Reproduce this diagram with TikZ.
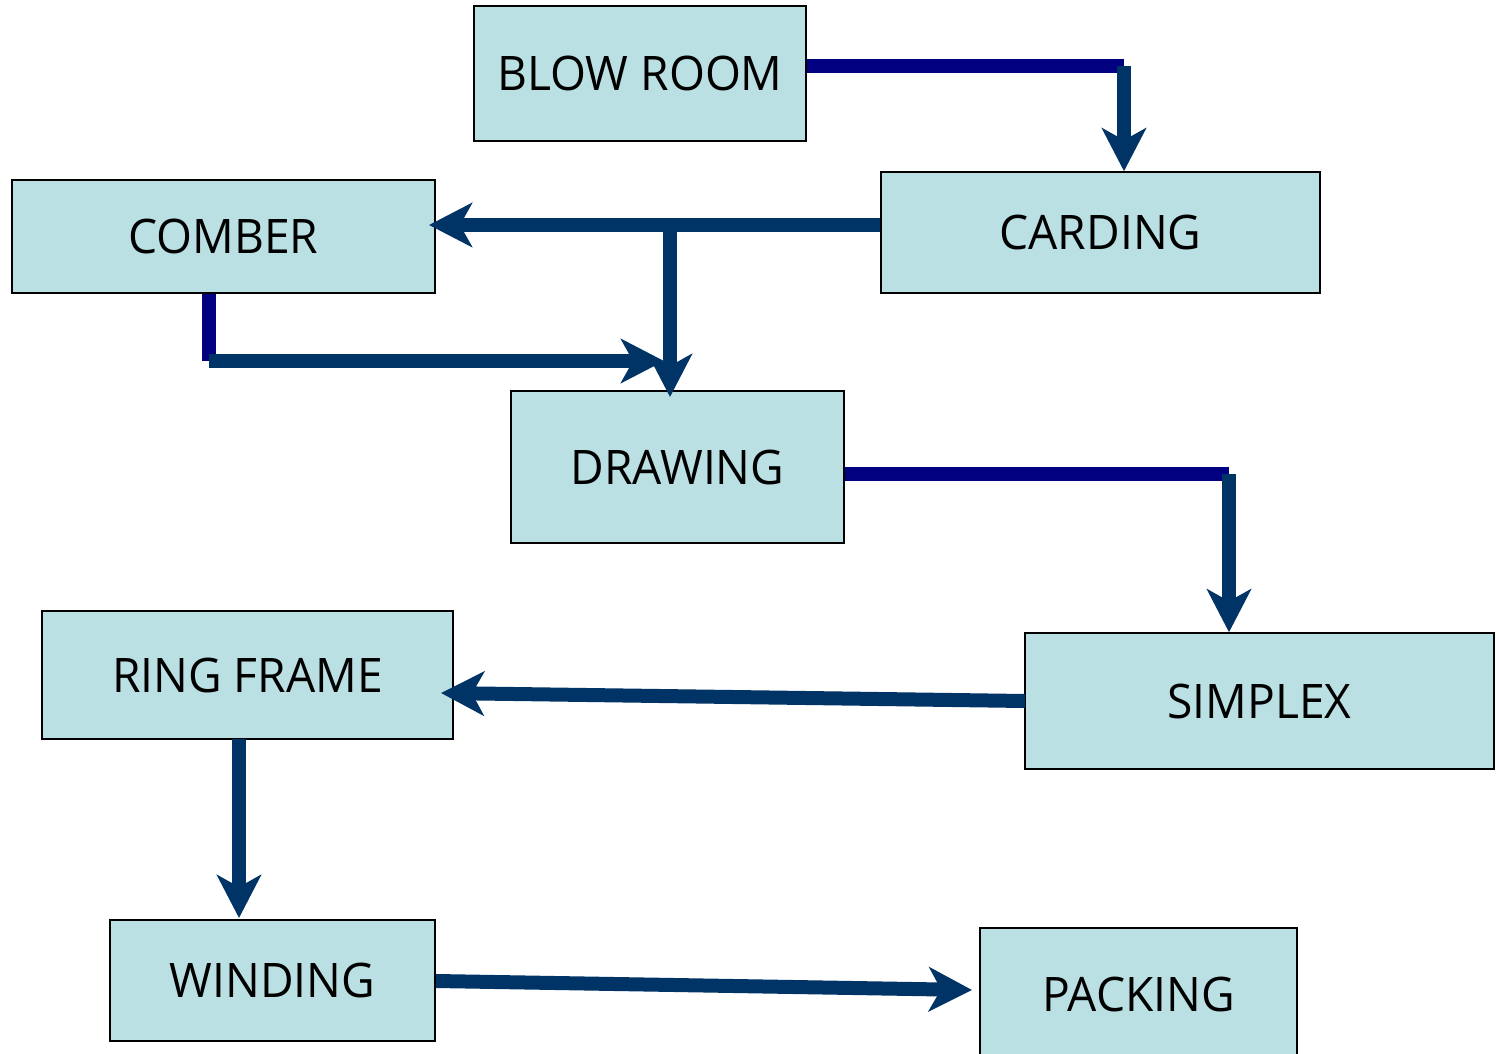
\documentclass[tikz,border=0pt]{standalone}
\usepackage{fontspec}
\setmainfont{Open Sans}[FakeStretch=0.97]
\usetikzlibrary{arrows.meta}

\definecolor{boxfill}{HTML}{BBE0E3}
\definecolor{navyline}{HTML}{000080}
\definecolor{blueline}{HTML}{003366}

\tikzset{
  stage/.style={draw=black, line width=1.5pt, fill=boxfill, inner sep=0pt,
    font=\fontsize{47.6}{50}\selectfont, text=black},
  feedline/.style={draw=navyline, line width=14pt, line cap=butt},
  flowline/.style={draw=blueline, line width=14pt, line cap=butt},
  flowarrow/.style={flowline, -{Stealth[length=43pt, width=44pt, inset=12pt]}},
}

\begin{document}
\begin{tikzpicture}[x=1pt, y=-1pt]
  \clip (0,0) rectangle (1499,1054);
  \fill[white] (0,0) rectangle (1499,1054);

  % process stages
  \node[stage, minimum width=332pt, minimum height=135pt] (blow) at (640,73.5) {BLOW ROOM};
  \node[stage, minimum width=439pt, minimum height=121pt] (card) at (1100.5,232.5) {CARDING};
  \node[stage, minimum width=423pt, minimum height=113pt] (comb) at (223.5,236.5) {COMBER};
  \node[stage, minimum width=333pt, minimum height=152pt] (draw) at (677.5,467) {DRAWING};
  \node[stage, minimum width=469pt, minimum height=136pt] (simp) at (1259.5,701) {SIMPLEX};
  \node[stage, minimum width=411pt, minimum height=128pt] (ring) at (247.5,675) {RING FRAME};
  \node[stage, minimum width=325pt, minimum height=121pt] (wind) at (272.5,980.5) {WINDING};
  \node[stage, minimum width=317pt, minimum height=132pt] (pack) at (1138.5,994) {PACKING};

  % corner and end points of the connectors
  \coordinate (k1) at (1124,66.5);
  \coordinate (j1) at (670,225);
  \coordinate (combtip) at (429,225);
  \coordinate (drawtip) at (670,397);
  \coordinate (k2) at (208.5,361);
  \coordinate (k2tip) at (664,361);
  \coordinate (k3) at (1229,474);
  \coordinate (simpout) at (1025,701);
  \coordinate (ringtip) at (441,693);
  \coordinate (ringout) at (239,739);
  \coordinate (windtip) at (239,918);
  \coordinate (windout) at (436,981);
  \coordinate (packtip) at (972,990);

  % blow room -> carding
  \draw[feedline] (blow.east |- k1) -- (k1);
  \draw[flowarrow] (k1) -- (card.north -| k1);

  % carding -> comber and carding -> drawing
  \draw[flowarrow] (card.west |- j1) -- (combtip);
  \draw[flowarrow] (j1) -- (drawtip);

  % comber -> drawing
  \draw[feedline] (comb.south -| k2) -- (k2);
  \draw[flowarrow] (k2) -- (k2tip);

  % drawing -> simplex
  \draw[feedline] (draw.east |- k3) -- (k3);
  \draw[flowarrow] (k3) -- (simp.north -| k3);

  % simplex -> ring frame -> winding -> packing
  \draw[flowarrow] (simpout) -- (ringtip);
  \draw[flowarrow] (ringout) -- (windtip);
  \draw[flowarrow] (windout) -- (packtip);
\end{tikzpicture}
\end{document}
